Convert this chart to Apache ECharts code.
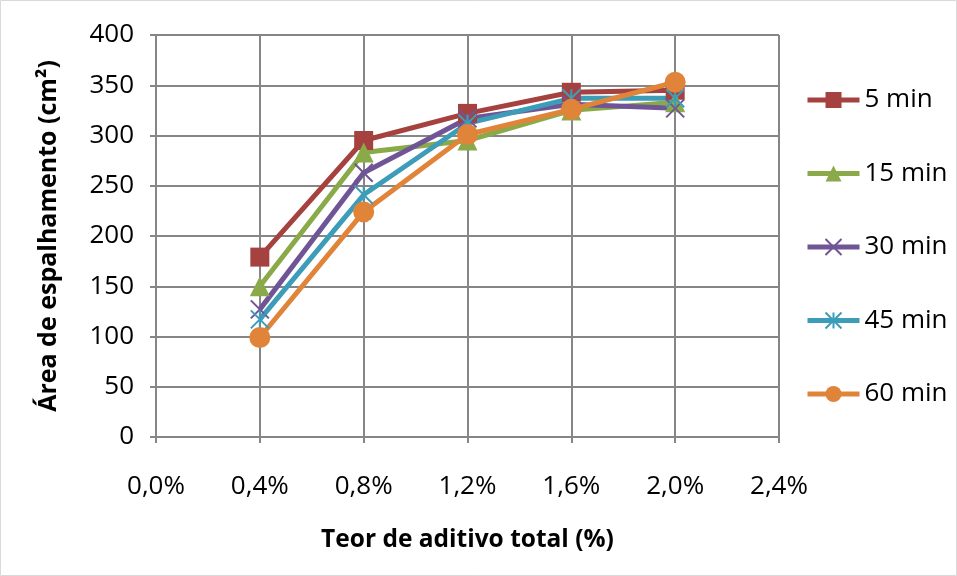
<!DOCTYPE html>
<html><head><meta charset="utf-8">
<script src="https://cdn.jsdelivr.net/npm/echarts@6/dist/echarts.min.js"></script>
<style>html,body{margin:0;padding:0;background:#fff}#c{width:957px;height:576px}</style>
</head><body><div id="c"></div>
<script>
const xValues = [0.4, 0.8, 1.2, 1.6, 2.0];
const seriesNames = ['5 min', '15 min', '30 min', '45 min', '60 min'];
const s5  = [179, 295, 322, 343, 345];
const s15 = [150, 283, 295, 325, 333];
const s30 = [127, 263, 317, 331, 327];
const s45 = [117, 241, 312, 337, 337];
const s60 = [99, 224, 301, 326, 353];
const colors = ['#A5413F', '#8AAA4A', '#6F5596', '#3D9DB8', '#E0843A'];
const symbols = ['rect', 'triangle', 'path://M0,0L10,10M10,0L0,10', 'path://M0,0L10,10M10,0L0,10M5,0L5,10', 'circle'];
const allData = [s5, s15, s30, s45, s60];
const font = 'Open Sans';

const series = allData.map((d, i) => ({
  name: seriesNames[i],
  type: 'line',
  data: d.map((v, j) => [xValues[j], v]),
  symbol: symbols[i],
  symbolSize: i === 4 ? 21 : (i === 0 ? 19 : (i === 1 ? 20 : 18)),
  lineStyle: { color: colors[i], width: 5 },
  itemStyle: i === 2 || i === 3
    ? { color: 'none', borderColor: colors[i], borderWidth: 2 }
    : { color: colors[i], borderColor: colors[i], borderWidth: 0 },
  emphasis: { disabled: true },
  animation: false
}));

const chart = echarts.init(document.getElementById('c'));
chart.setOption({
  animation: false,
  color: colors,
  graphic: [{ type: 'rect', shape: { x: 0.5, y: 0.5, width: 956, height: 575 }, style: { fill: 'none', stroke: '#D9D9D9', lineWidth: 1 } }],
  grid: { left: 156, top: 35, width: 623, height: 402, containLabel: false },
  xAxis: {
    type: 'value', min: 0, max: 2.4, interval: 0.4,
    name: 'Teor de aditivo total (%)', nameLocation: 'middle', nameGap: 91,
    nameTextStyle: { fontFamily: font, fontSize: 24.5, fontWeight: 'bold', color: '#000' },
    axisLine: { lineStyle: { color: '#868686', width: 2 } },
    axisTick: { show: true, length: 6, lineStyle: { color: '#868686', width: 2 } },
    axisLabel: { fontFamily: font, fontSize: 26, color: '#000', margin: 37,
      formatter: v => v.toFixed(1).replace('.', ',') + '%' },
    splitLine: { show: true, lineStyle: { color: '#868686', width: 2 } }
  },
  yAxis: {
    type: 'value', min: 0, max: 400, interval: 50,
    name: 'Área de espalhamento (cm²)', nameLocation: 'middle', nameGap: 95, nameRotate: 90,
    nameTextStyle: { fontFamily: font, fontSize: 25, fontWeight: 'bold', color: '#000' },
    axisLine: { show: true, lineStyle: { color: '#868686', width: 2 } },
    axisTick: { show: true, length: 6, lineStyle: { color: '#868686', width: 2 } },
    axisLabel: { fontFamily: font, fontSize: 26, color: '#000', margin: 22 },
    splitLine: { show: true, lineStyle: { color: '#868686', width: 2 } }
  },
  legend: {
    orient: 'vertical', left: 805, top: 87, itemGap: 47.5, padding: 0,
    itemWidth: 52, itemHeight: 20,
    lineStyle: { width: 5 },
    textStyle: { fontFamily: font, fontSize: 26, color: '#000' },
    data: seriesNames
  },
  series: series
});
</script></body></html>
